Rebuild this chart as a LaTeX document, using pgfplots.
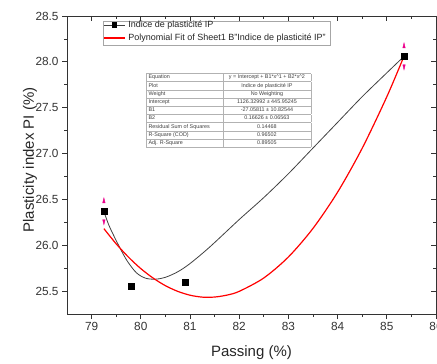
\documentclass[border=0pt]{standalone}
\usepackage{fontspec}
\setmainfont{Liberation Sans}
\usepackage{pgfplots}
\pgfplotsset{compat=1.18}
\usepackage{colortbl}
\begin{document}
\begin{tikzpicture}
\pgfplotsset{common/.style={
  width=369pt, height=298pt, scale only axis,
  xmin=78.5, xmax=86, ymin=25.25, ymax=28.5,
  xtick={79,80,...,86}, ytick={25.5,26.0,...,28.5},
  minor x tick num=1, minor y tick num=1,
  major tick length=5pt, minor tick length=3pt,
  axis line style={black!80, line width=0.8pt},
  every tick/.style={black!80, line width=0.7pt},
}}
\begin{axis}[common,
  tick align=outside, xtick pos=left, ytick pos=left,
  /pgf/number format/assume math mode=true,
  tick label style={font=\fontsize{11.8}{14}\selectfont, text=black!80},
  yticklabel style={/pgf/number format/fixed, /pgf/number format/fixed zerofill, /pgf/number format/precision=1},
  xticklabel style={/pgf/number format/fixed},
  xlabel={Passing (\%)}, ylabel={Plasticity index PI (\%)},
  label style={font=\fontsize{15}{17}\selectfont, text=black!85},
  xlabel style={at={(axis description cs:0.5,-0.128)}, anchor=center},
  ylabel style={at={(axis description cs:-0.1003,0.517)}, anchor=center},
]
\coordinate (sw) at (rel axis cs:0,0);
\coordinate (ne) at (rel axis cs:1,1);
% Origin B-spline connecting the data
\addplot[black!75, line width=0.8pt, smooth, tension=0.5] coordinates {
(79.25,26.37) (79.35,26.22) (79.51,26.04) (79.71,25.84) (79.91,25.70) (80.1,25.64)
(80.3,25.63) (80.5,25.65) (80.75,25.71) (81.0,25.80) (81.4,25.98) (82.0,26.28)
(82.5,26.52) (83.0,26.78) (83.5,27.06) (84.0,27.34) (84.5,27.62) (85.0,27.88) (85.35,28.06)};
% polynomial fit
\addplot[red, line width=1.2pt, smooth] coordinates {
(79.25,26.181) (79.5,26.015) (79.75,25.870) (80.0,25.745) (80.25,25.642) (80.5,25.559)
(80.75,25.497) (81.0,25.455) (81.25,25.434) (81.5,25.435) (81.75,25.456) (82.0,25.497)
(82.5,25.643) (83.0,25.872) (83.5,26.184) (84.0,26.579) (84.5,27.058) (85.0,27.619) (85.35,28.062)};
% magenta arrows
\addplot[only marks, mark=triangle*, magenta, mark size=2.4pt, mark options={xscale=0.6, yscale=1.4}]
  coordinates {(79.25,26.48) (85.35,28.17)};
\addplot[only marks, mark=triangle*, magenta, mark size=2.4pt, mark options={rotate=180, xscale=0.6, yscale=1.4}]
  coordinates {(79.25,26.26) (85.35,27.95)};
% data
\addplot[only marks, mark=square*, black, mark size=3pt]
  coordinates {(79.25,26.37) (79.8,25.55) (80.9,25.60) (85.35,28.06)};
% legend (drawn by hand)
\draw[gray!70, fill=white, line width=0.5pt] (rel axis cs:0.0976,0.903) rectangle (rel axis cs:0.7127,0.983);
\draw[black!75, line width=0.8pt] (rel axis cs:0.1003,0.970) -- (rel axis cs:0.157,0.970);
\fill[black] ([xshift=-2.6pt,yshift=-2.6pt]rel axis cs:0.1287,0.970) rectangle ([xshift=2.6pt,yshift=2.6pt]rel axis cs:0.1287,0.970);
\draw[red, line width=1.2pt] (rel axis cs:0.1003,0.926) -- (rel axis cs:0.157,0.926);
\node[anchor=west, inner sep=0pt, font=\fontsize{9}{10}\selectfont, text=black!85] at (rel axis cs:0.166,0.970) {Indice de plasticité IP};
\node[anchor=west, inner sep=0pt, font=\fontsize{9}{10}\selectfont, text=black!85] at (rel axis cs:0.166,0.926) {Polynomial Fit of Sheet1 B"Indice de plasticité IP"};
% fit report table
\node[anchor=north west, inner sep=0pt] at (rel axis cs:0.214,0.809) {{%
  \fontsize{5.4}{7.8}\selectfont\color{black!75}\arrayrulecolor{gray!60}%
  \setlength{\tabcolsep}{2pt}%
  \begin{tabular}{|p{72pt}|>{\centering\arraybackslash}p{84pt}|}
  \hline Equation & y = Intercept + B1*x\textasciicircum 1 + B2*x\textasciicircum 2\\
  \hline Plot & Indice de plasticité IP\\
  \hline Weight & No Weighting\\
  \hline Intercept & 1126.32992 ± 445.95245\\
  \hline B1 & -27.05811 ± 10.82544\\
  \hline B2 & 0.16626 ± 0.06563\\
  \hline Residual Sum of Squares & 0.14468\\
  \hline R-Square (COD) & 0.96502\\
  \hline Adj. R-Square & 0.89505\\
  \hline
  \end{tabular}}};
\end{axis}
\begin{axis}[common, tick align=inside, xtick pos=right, ytick pos=right,
  xticklabels={}, yticklabels={}]
\end{axis}
\pgfresetboundingbox
\path[use as bounding box] ([xshift=-67pt,yshift=-49pt]sw) rectangle ([xshift=1pt,yshift=16pt]ne);
\end{tikzpicture}
\end{document}
